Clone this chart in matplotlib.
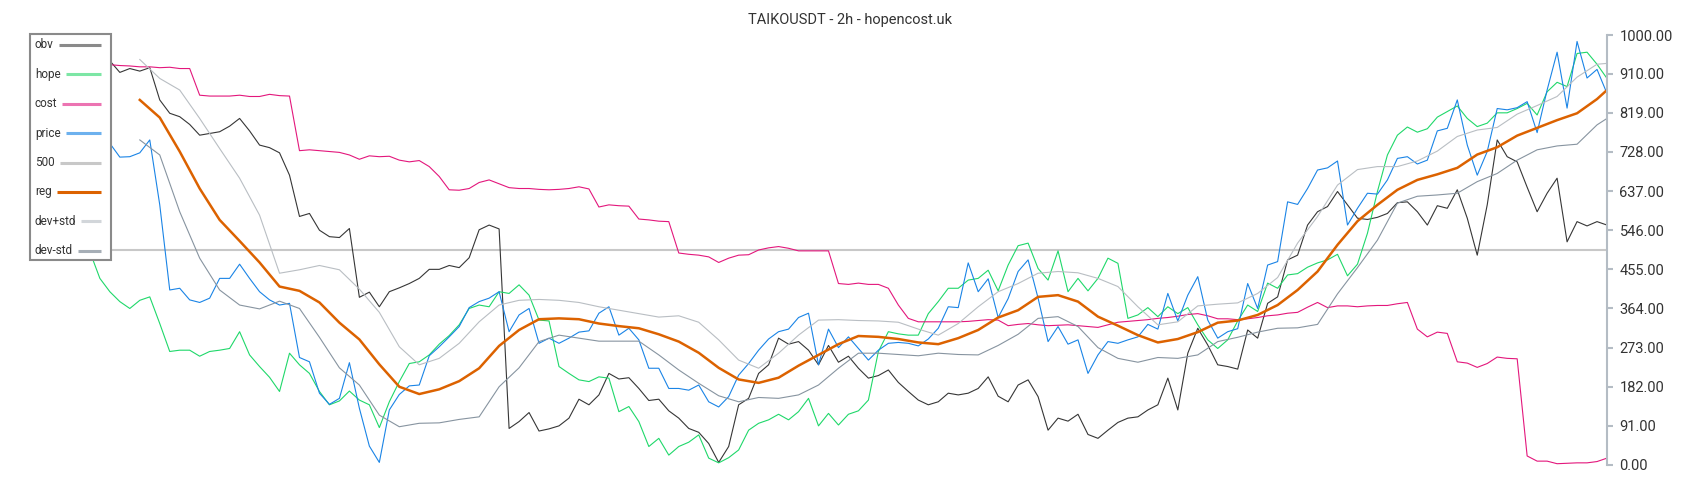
import matplotlib
matplotlib.use("Agg")
import matplotlib.pyplot as plt
from matplotlib.patches import Rectangle
import numpy as np

TITLE = "TAIKOUSDT - 2h - hopencost.uk"

# one value every second bar (0 - 1000 scale)
obv = [945, 930, 948, 935, 942, 928, 945, 932, 940, 913,
       922, 916, 924, 849, 818, 810, 792, 767, 771, 775,
       788, 806, 777, 744, 738, 726, 674, 578, 585, 546,
       531, 529, 550, 390, 402, 368, 403, 412, 422, 434,
       455, 455, 464, 459, 482, 547, 558, 549, 85, 101,
       122, 79, 84, 91, 109, 153, 140, 163, 213, 200,
       203, 178, 150, 153, 126, 109, 85, 76, 50, 6,
       43, 140, 155, 213, 233, 295, 281, 287, 267, 233,
       278, 239, 253, 225, 202, 208, 221, 192, 171, 151,
       140, 147, 167, 163, 167, 178, 205, 160, 147, 186,
       198, 159, 81, 109, 102, 118, 71, 62, 81, 99,
       109, 112, 128, 140, 202, 128, 260, 318, 279, 233,
       229, 223, 314, 295, 376, 391, 477, 488, 558, 589,
       601, 636, 605, 574, 571, 576, 585, 610, 612, 589,
       558, 603, 597, 640, 574, 488, 605, 756, 717, 705,
       646, 589, 632, 667, 519, 566, 556, 566, 558]

hope = [589, 574, 558, 543, 527, 512, 496, 434, 403, 380,
        364, 383, 391, 329, 264, 267, 267, 253, 264, 267,
        271, 310, 256, 229, 204, 171, 260, 233, 213, 171,
        140, 149, 172, 151, 140, 87, 147, 194, 236, 240,
        256, 281, 301, 326, 364, 372, 368, 403, 399, 419,
        395, 337, 335, 229, 213, 198, 194, 205, 202, 124,
        136, 101, 43, 62, 23, 43, 53, 70, 16, 5,
        17, 35, 81, 97, 105, 118, 105, 124, 155, 91,
        120, 93, 118, 126, 151, 264, 310, 305, 302, 302,
        352, 380, 411, 411, 430, 434, 453, 405, 465, 510,
        516, 457, 430, 498, 403, 434, 405, 434, 481, 469,
        341, 349, 366, 345, 368, 352, 366, 326, 291, 271,
        291, 335, 372, 357, 423, 411, 442, 445, 460, 470,
        477, 490, 440, 467, 539, 636, 721, 767, 786, 774,
        782, 809, 822, 835, 806, 787, 795, 819, 819, 829,
        841, 814, 868, 890, 880, 957, 960, 932, 899]

cost = [932, 930, 931, 933, 931, 930, 931, 930, 931, 929,
        928, 926, 926, 924, 925, 922, 922, 860, 858, 858,
        858, 860, 857, 857, 862, 859, 858, 731, 733, 731,
        729, 727, 721, 711, 719, 717, 718, 709, 705, 708,
        694, 671, 640, 639, 643, 657, 663, 654, 645, 643,
        643, 641, 640, 641, 643, 647, 642, 600, 605, 603,
        602, 572, 570, 567, 566, 493, 490, 488, 484, 471,
        481, 488, 489, 500, 505, 508, 504, 498, 498, 498,
        498, 422, 420, 423, 420, 420, 411, 372, 341, 333,
        333, 333, 333, 333, 334, 336, 338, 337, 324, 327,
        329, 326, 324, 325, 326, 324, 322, 320, 326, 332,
        334, 336, 338, 341, 343, 346, 350, 352, 347, 340,
        340, 338, 340, 343, 347, 349, 353, 355, 367, 378,
        366, 370, 370, 368, 370, 371, 371, 375, 378, 316,
        298, 309, 306, 240, 237, 227, 236, 251, 248, 247,
        21, 9, 9, 3, 4, 5, 5, 8, 16]

price = [760, 752, 764, 756, 748, 760, 752, 756, 748, 716,
         717, 726, 756, 605, 407, 411, 384, 378, 388, 434,
         434, 467, 434, 403, 384, 372, 376, 250, 240, 167,
         141, 155, 238, 132, 44, 6, 128, 164, 184, 186,
         254, 275, 298, 322, 366, 380, 388, 403, 310, 349,
         364, 283, 295, 283, 295, 309, 312, 353, 368, 302,
         318, 291, 225, 225, 178, 178, 174, 186, 147, 135,
         159, 209, 236, 267, 293, 310, 316, 343, 353, 233,
         316, 273, 298, 271, 244, 267, 283, 285, 283, 277,
         293, 318, 368, 366, 470, 403, 433, 343, 387, 450,
         477, 388, 287, 322, 281, 291, 213, 256, 287, 283,
         291, 298, 327, 316, 399, 335, 395, 438, 337, 295,
         310, 317, 422, 364, 465, 473, 612, 606, 643, 686,
         691, 707, 558, 597, 632, 630, 663, 713, 717, 700,
         709, 777, 783, 849, 744, 674, 729, 829, 826, 831,
         845, 773, 872, 960, 830, 985, 900, 920, 864]

level_500 = 500

# the smoothed series only start once the window is full, sampled more sparsely
smooth_bars = list(range(11, 158, 2)) + [158]

reg = [849, 808, 729, 643, 570, 521, 471, 415, 405, 378,
       331, 292, 234, 182, 165, 176, 195, 225, 277, 314,
       339, 341, 339, 329, 323, 318, 304, 287, 261, 226,
       199, 191, 203, 231, 256, 281, 300, 298, 293, 285,
       281, 295, 314, 343, 360, 391, 395, 380, 345, 324,
       302, 285, 293, 309, 331, 336, 349, 372, 407, 450,
       512, 567, 605, 640, 663, 676, 691, 722, 739, 766,
       784, 802, 818, 851, 872]

dev_plus = [943, 899, 872, 806, 736, 667, 581, 446, 454, 464,
            454, 409, 355, 275, 233, 248, 283, 333, 372, 383,
            385, 383, 378, 368, 360, 352, 344, 347, 332, 291,
            244, 225, 260, 302, 337, 338, 336, 335, 332, 316,
            302, 329, 368, 403, 422, 446, 450, 447, 434, 415,
            368, 326, 333, 370, 374, 377, 399, 436, 516, 578,
            651, 687, 694, 694, 707, 730, 764, 779, 785, 816,
            836, 857, 902, 932, 934]

dev_minus = [756, 721, 589, 481, 407, 372, 363, 381, 364, 297,
             226, 186, 116, 89, 97, 98, 106, 112, 182, 226,
             287, 302, 295, 288, 288, 288, 256, 221, 190, 161,
             147, 157, 155, 163, 186, 225, 260, 260, 257, 254,
             260, 257, 256, 278, 304, 341, 345, 322, 273, 248,
             239, 250, 248, 256, 287, 297, 309, 318, 319, 327,
             398, 459, 523, 609, 625, 628, 632, 659, 678, 709,
             733, 742, 746, 791, 806]

tick_values = [0, 91, 182, 273, 364, 455, 546, 637, 728, 819, 910, 1000]

# name, line colour, legend colour
legend_items = [("obv", "#363636", "#8a8a8a"),
                ("hope", "#1fd86a", "#7de6a5"),
                ("cost", "#e3177c", "#ec74b2"),
                ("price", "#1a84e6", "#6db1ee"),
                ("500", "#c8c8c8", "#c8c8c8"),
                ("reg", "#dc6200", "#dc6200"),
                ("dev+std", "#b9bec3", "#d2d6da"),
                ("dev-std", "#8794a0", "#a6aeb6")]
colors = {name: c for name, c, _ in legend_items}

plt.rcParams['font.family'] = ['Roboto', 'DejaVu Sans']

fig = plt.figure(figsize=(17, 5), dpi=100)
ax = fig.add_axes([30 / 1700, 35 / 500, 1577 / 1700, 430 / 500])

bars = np.arange(len(obv))
ax.axhline(level_500, color=colors["500"], lw=1.5)
ax.plot(bars, obv, color=colors["obv"], lw=0.8)
ax.plot(bars, hope, color=colors["hope"], lw=0.8)
ax.plot(bars, cost, color=colors["cost"], lw=0.8)
ax.plot(bars, price, color=colors["price"], lw=0.8)
ax.plot(smooth_bars, reg, color=colors["reg"], lw=1.8)
ax.plot(smooth_bars, dev_plus, color=colors["dev+std"], lw=0.8)
ax.plot(smooth_bars, dev_minus, color=colors["dev-std"], lw=0.8)

ax.set_xlim(0, len(obv) - 1)
ax.set_ylim(0, 1000)
ax.set_xticks([])
ax.yaxis.tick_right()
ax.set_yticks(tick_values)
ax.set_yticklabels([f"{v:.2f}" for v in tick_values])
ax.tick_params(axis='y', length=4, width=1.5, color='#b4bcc4',
               labelcolor='#333333', labelsize=10.5, pad=5)
for side in ['top', 'left', 'bottom']:
    ax.spines[side].set_visible(False)
ax.spines['right'].set_color('#b4bcc4')
ax.spines['right'].set_linewidth(1.5)

fig.text(0.5, 1 - 20 / 500, TITLE, ha='center', va='center',
         fontsize=10.5, color='#333333')

# legend box drawn by hand: label on the left, sample line up to the right edge
lay = fig.add_axes([0, 0, 1, 1], zorder=5)
lay.set_xlim(0, 1700)
lay.set_ylim(500, 0)
lay.axis('off')
lay.patch.set_visible(False)
lay.add_patch(Rectangle((30, 34), 81, 226, facecolor='white',
                        edgecolor='#8a8a8a', lw=1.5))
renderer = fig.canvas.get_renderer()
for i, (name, _, leg_color) in enumerate(legend_items):
    y = 45 + i * 29.4
    t = lay.text(35, y, name, ha='left', va='center', fontsize=8.5,
                 color='#333333')
    x_end = t.get_window_extent(renderer).x1
    lay.plot([x_end + 5, 101], [y, y], color=leg_color, lw=2.2,
             solid_capstyle='butt')

fig.savefig("out.png", dpi=100)
